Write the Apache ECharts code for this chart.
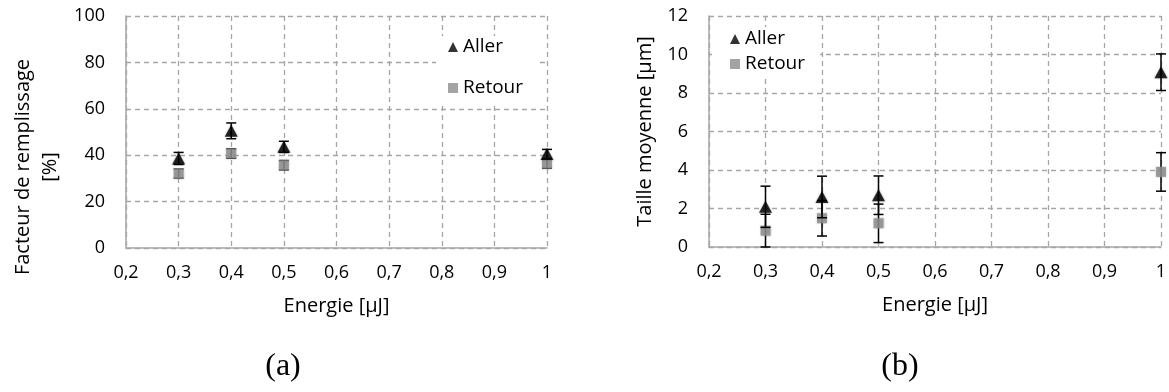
<!DOCTYPE html>
<html>
<head>
<meta charset="utf-8">
<script src="https://cdn.jsdelivr.net/npm/echarts@6/dist/echarts.min.js"></script>
<style>
html,body{margin:0;padding:0;background:#fff;}
#chart{width:1169px;height:392px;}
</style>
</head>
<body>
<div id="chart"></div>
<script>
// ---- data ----
const energy = [0.3, 0.4, 0.5, 1.0];
const fillAller = [38.6, 50.5, 43.6, 40.5];
const fillAllerErr = [2.6, 3.4, 2.4, 2.0];
const fillRetour = [32.1, 40.7, 35.7, 36.4];
const fillRetourErr = [1.9, 2.0, 2.0, 2.0];
const sizeAller = [2.09, 2.6, 2.69, 9.08];
const sizeAllerErr = [1.07, 1.08, 1.0, 0.95];
const sizeRetour = [0.85, 1.49, 1.23, 3.9];
const sizeRetourErr = [0.85, 0.92, 1.0, 1.0];
const xTickLabels = ['0,2', '0,3', '0,4', '0,5', '0,6', '0,7', '0,8', '0,9', '1'];
const seriesNames = ['Aller', 'Retour'];
const xName = 'Energie [µJ]';
const yNameA = 'Facteur de remplissage\n[%]';
const yNameB = 'Taille moyenne [µm]';
const captions = ['(a)', '(b)'];

const FONT = 'Open Sans';
const GRID_COLOR = '#a6a6a6';

function pts(xs, ys) { return xs.map((x, i) => [x, ys[i]]); }
function errs(xs, ys, es) { return xs.map((x, i) => [x, ys[i] - es[i], ys[i] + es[i]]); }

function errRender(params, api) {
  const x = api.value(0), lo = api.value(1), hi = api.value(2);
  const a = api.coord([x, lo]), b = api.coord([x, hi]);
  const cap = 5;
  const st = { stroke: '#000', lineWidth: 1.5 };
  return {
    type: 'group',
    children: [
      { type: 'line', shape: { x1: a[0], y1: a[1], x2: b[0], y2: b[1] }, style: st },
      { type: 'line', shape: { x1: a[0] - cap, y1: a[1], x2: a[0] + cap, y2: a[1] }, style: st },
      { type: 'line', shape: { x1: b[0] - cap, y1: b[1], x2: b[0] + cap, y2: b[1] }, style: st }
    ]
  };
}

function xAxis(gi) {
  return {
    type: 'value', gridIndex: gi, min: 0.2, max: 1.0, interval: 0.1,
    axisLine: { show: true, onZero: false, lineStyle: { color: GRID_COLOR, width: 1.5 } },
    axisTick: { show: false },
    axisLabel: {
      margin: 16, color: '#000', fontFamily: FONT, fontSize: 18,
      formatter: (v, i) => xTickLabels[i] !== undefined ? xTickLabels[i] : ''
    },
    splitLine: { show: true, lineStyle: { color: GRID_COLOR, type: [5, 4], width: 1.3 } },
    name: xName, nameLocation: 'middle', nameGap: 48,
    nameTextStyle: { color: '#000', fontFamily: FONT, fontSize: 20 }
  };
}

function yAxis(gi, max, interval, name, gap, pad) {
  return {
    type: 'value', gridIndex: gi, min: 0, max: max, interval: interval,
    axisLine: { show: true, lineStyle: { color: GRID_COLOR, width: 1.5 } },
    axisTick: { show: false },
    axisLabel: { margin: 21, color: '#000', fontFamily: FONT, fontSize: 18 },
    splitLine: { show: true, lineStyle: { color: GRID_COLOR, type: [5, 4], width: 1.3 } },
    name: name, nameLocation: 'middle', nameRotate: 90, nameGap: gap,
    nameTextStyle: { color: '#000', fontFamily: FONT, fontSize: 20, lineHeight: 27, padding: pad }
  };
}

const allerStyle = { color: '#000', shadowBlur: 2, shadowColor: 'rgba(0,0,0,0.5)' };
const retourStyle = { color: '#8c8c8c', shadowBlur: 2, shadowColor: 'rgba(120,120,120,0.6)' };

function seriesFor(gi, aY, aE, rY, rE) {
  return [
    { type: 'custom', name: 'errR' + gi, xAxisIndex: gi, yAxisIndex: gi, renderItem: errRender,
      encode: { x: 0, y: [1, 2] }, data: errs(energy, rY, rE), z: 2, silent: true },
    { type: 'scatter', name: seriesNames[1], xAxisIndex: gi, yAxisIndex: gi, symbol: 'rect',
      symbolSize: 10, itemStyle: retourStyle, data: pts(energy, rY), z: 3 },
    { type: 'custom', name: 'errA' + gi, xAxisIndex: gi, yAxisIndex: gi, renderItem: errRender,
      encode: { x: 0, y: [1, 2] }, data: errs(energy, aY, aE), z: 4, silent: true },
    { type: 'scatter', name: seriesNames[0], xAxisIndex: gi, yAxisIndex: gi, symbol: 'triangle',
      symbolSize: [13, 12], itemStyle: allerStyle, data: pts(energy, aY), z: 5 }
  ];
}

function legend(left, top, gap, pad) {
  return {
    orient: 'vertical', left: left, top: top, data: seriesNames, itemGap: gap,
    itemWidth: 10, itemHeight: 10, backgroundColor: '#fff', padding: pad,
    textStyle: { color: '#000', fontFamily: FONT, fontSize: 19, lineHeight: 20 },
    selectedMode: false
  };
}

const chart = echarts.init(document.getElementById('chart'), null, { renderer: 'canvas' });
chart.setOption({
  backgroundColor: '#fff',
  animation: false,
  grid: [
    { left: 126, top: 16, width: 421, height: 232, outerBoundsMode: 'none', containLabel: false },
    { left: 709, top: 16, width: 452, height: 231, outerBoundsMode: 'none', containLabel: false }
  ],
  xAxis: [xAxis(0), xAxis(1)],
  yAxis: [
    yAxis(0, 100, 20, yNameA, 62, [0, 70, 0, 0]),
    yAxis(1, 12, 2, yNameB, 50, [0, 0, 0, 0])
  ],
  legend: [
    legend(436, 36, 21, [1, 13, 8, 12]),
    legend(712, 27, 5, [2, 15, 2, 18])
  ],
  series: [].concat(
    seriesFor(0, fillAller, fillAllerErr, fillRetour, fillRetourErr),
    seriesFor(1, sizeAller, sizeAllerErr, sizeRetour, sizeRetourErr)
  ),
  graphic: [
    { type: 'text', x: 283, y: 367, style: { text: captions[0], font: '32px "Liberation Serif"', fill: '#000', align: 'center', verticalAlign: 'middle' } },
    { type: 'text', x: 900, y: 367, style: { text: captions[1], font: '32px "Liberation Serif"', fill: '#000', align: 'center', verticalAlign: 'middle' } }
  ]
});
</script>
</body>
</html>
